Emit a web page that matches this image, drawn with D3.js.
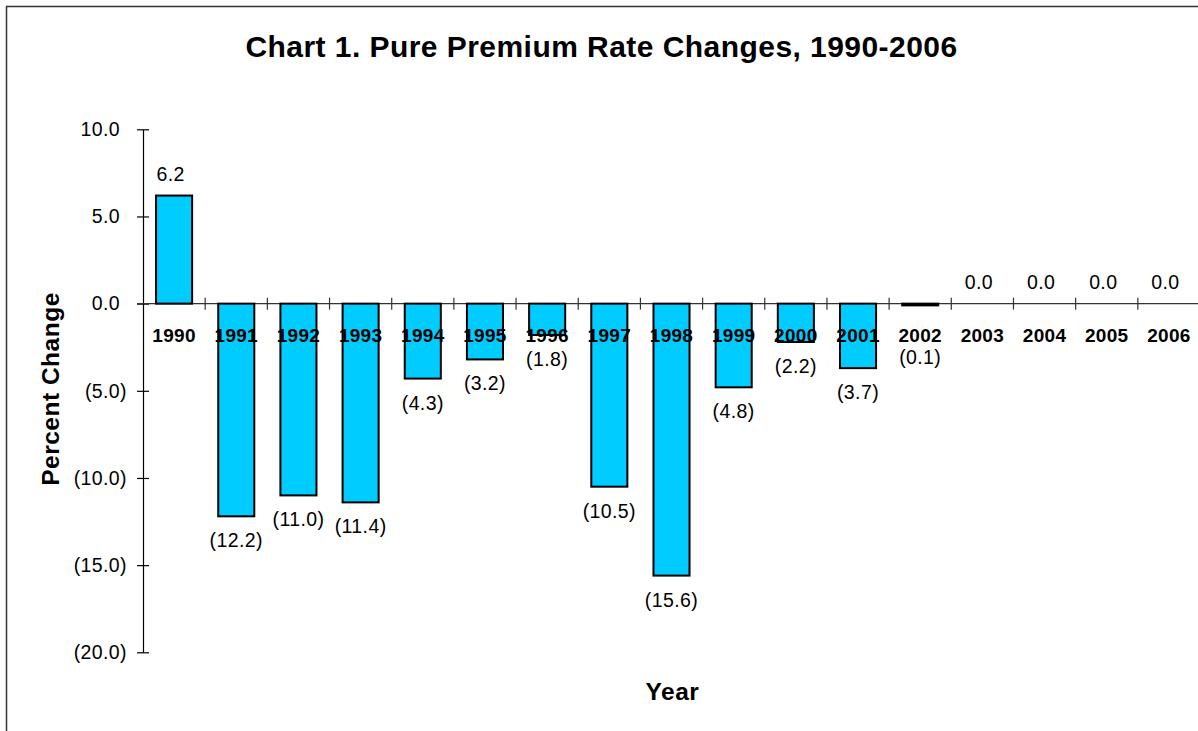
<!DOCTYPE html>
<html>
<head>
<meta charset="utf-8">
<script src="https://cdn.jsdelivr.net/npm/d3@7"></script>
<style>
  html, body { margin: 0; padding: 0; background: #fff; }
  svg { display: block; }
  text { font-family: "Liberation Sans", Arial, Helvetica, sans-serif; }
</style>
</head>
<body>
<svg id="chart" width="1198" height="731"></svg>
<script>
// Pure premium rate changes by year (percent)
const years = ["1990","1991","1992","1993","1994","1995","1996","1997","1998","1999","2000","2001","2002","2003","2004","2005","2006"];
const changes = [6.2, -12.2, -11.0, -11.4, -4.3, -3.2, -1.8, -10.5, -15.6, -4.8, -2.2, -3.7, -0.1, 0.0, 0.0, 0.0, 0.0];
const yTicks = [10, 5, 0, -5, -10, -15, -20];

const data = years.map((y, i) => ({ year: y, value: changes[i] }));

const svg = d3.select("#chart");

// outer frame
svg.append("rect")
  .attr("x", 6.5).attr("y", 6.5)
  .attr("width", 1210).attr("height", 800)
  .attr("fill", "none").attr("stroke", "#333").attr("stroke-width", 1.5);

const plotLeft = 143, plotRight = 1200;
const x = d3.scaleBand().domain(years).range([plotLeft, plotRight]).paddingInner(0.42).paddingOuter(0.21);
const y = d3.scaleLinear().domain([-20, 10]).range([652.3, 129.3]);

// accounting style: negatives in parentheses, positives padded by an invisible ")"
function setNumber(sel, v) {
  const s = Math.abs(v).toFixed(1);
  if (v < -0.0001) {
    sel.text("(" + s + ")");
  } else {
    sel.text(s);
    sel.append("tspan").attr("fill-opacity", 0).text(")");
  }
}

// title
svg.append("text")
  .attr("x", 601.5).attr("y", 57)
  .attr("text-anchor", "middle")
  .attr("font-size", 30).attr("font-weight", "bold")
  .attr("letter-spacing", 0.45)
  .text("Chart 1. Pure Premium Rate Changes, 1990-2006");

// y axis
const yAxis = d3.axisLeft(y).tickValues(yTicks).tickFormat(() => "").tickSizeInner(6).tickSizeOuter(0).tickPadding(10);
const gy = svg.append("g").attr("transform", `translate(${plotLeft},0)`).call(yAxis);
gy.select(".domain").attr("stroke", "#000").attr("stroke-width", 1.2);
gy.selectAll(".tick line").attr("x2", 6).attr("x1", -6).attr("stroke", "#000").attr("stroke-width", 1.2);
gy.selectAll(".tick text")
  .attr("font-size", 19.5).attr("letter-spacing", 0.4).attr("fill", "#000")
  .attr("font-family", "'Liberation Sans', Arial, sans-serif")
  .each(function (d) { setNumber(d3.select(this), d); });

// x axis line at zero, with ticks between categories
const zeroY = y(0);
svg.append("line")
  .attr("x1", plotLeft - 6).attr("x2", plotRight)
  .attr("y1", zeroY).attr("y2", zeroY)
  .attr("stroke", "#333").attr("stroke-width", 1.2);
const step = x.step();
svg.append("g").selectAll("line")
  .data(d3.range(1, years.length))
  .join("line")
  .attr("x1", d => plotLeft + d * step).attr("x2", d => plotLeft + d * step)
  .attr("y1", zeroY - 6).attr("y2", zeroY + 6)
  .attr("stroke", "#333").attr("stroke-width", 1.2);

// bars
svg.append("g").selectAll("rect")
  .data(data)
  .join("rect")
  .attr("x", d => x(d.year))
  .attr("width", x.bandwidth())
  .attr("y", d => y(Math.max(0, d.value)))
  .attr("height", d => Math.abs(y(d.value) - y(0)))
  .attr("fill", "#00CCFF")
  .attr("stroke", "#000").attr("stroke-width", 2);

// category labels
svg.append("g").selectAll("text")
  .data(data)
  .join("text")
  .attr("x", d => x(d.year) + x.bandwidth() / 2)
  .attr("y", zeroY + 38)
  .attr("text-anchor", "middle")
  .attr("font-size", 19).attr("font-weight", "bold")
  .attr("letter-spacing", 0.3)
  .text(d => d.year);

// value labels: above positive bars, below negative ones, clear of the year labels
svg.append("g").selectAll("text")
  .data(data)
  .join("text")
  .attr("x", d => x(d.year) + x.bandwidth() / 2)
  .attr("y", d => d.value < 0 ? Math.max(y(d.value) + 31, zeroY + 60) : y(d.value) - 15)
  .attr("text-anchor", "middle")
  .attr("font-size", 19.5).attr("letter-spacing", 0.4)
  .each(function (d) { setNumber(d3.select(this), d.value); });

// axis titles
svg.append("text")
  .attr("transform", "translate(59,389) rotate(-90)")
  .attr("text-anchor", "middle")
  .attr("font-size", 24.5).attr("font-weight", "bold")
  .attr("letter-spacing", 0.5)
  .text("Percent Change");

svg.append("text")
  .attr("x", 672.5).attr("y", 699.5)
  .attr("text-anchor", "middle")
  .attr("font-size", 24.5).attr("font-weight", "bold")
  .attr("letter-spacing", 0.5)
  .text("Year");
</script>
</body>
</html>
